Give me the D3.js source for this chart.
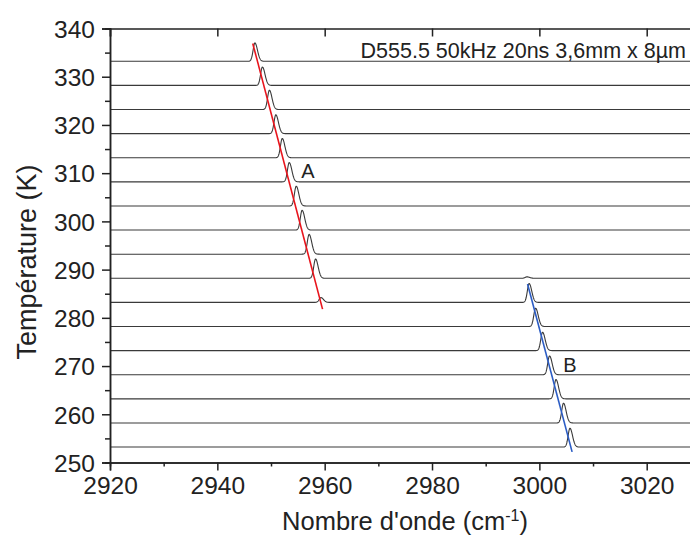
<!DOCTYPE html>
<html><head><meta charset="utf-8">
<script src="https://cdn.jsdelivr.net/npm/d3@7"></script>
<style>
html,body{margin:0;padding:0;background:#fff;}
svg{display:block;font-family:"Liberation Sans",Arial,sans-serif;}
</style></head>
<body>
<svg id="chart" width="690" height="536"></svg>
<script>
// ---- data ----
const traceOffsets = [333.2, 328.2, 323.2, 318.2, 313.2, 308.2, 303.2, 298.2, 293.2, 288.2, 283.2, 278.2, 273.2, 268.2, 263.2, 258.2, 253.2];
const peakACenters = [2947.0, 2948.4, 2949.7, 2950.9, 2952.1, 2953.4, 2954.7, 2955.8, 2957.1, 2958.3, 2959.3, null, null, null, null, null, null];
const peakAHeights = [3.8, 3.8, 4.0, 3.9, 4.0, 4.0, 4.1, 4.1, 4.1, 4.0, 1.0, 0, 0, 0, 0, 0, 0];
const peakBCenters = [null, null, null, null, null, null, null, null, null, 2997.7, 2998.1, 2999.3, 3000.6, 3001.9, 3003.1, 3004.5, 3005.7];
const peakBHeights = [0, 0, 0, 0, 0, 0, 0, 0, 0, 0.3, 3.9, 3.8, 3.8, 3.9, 4.0, 4.1, 3.9];
const fitA = [[2946.6, 336.9], [2959.6, 281.8]];
const fitB = [[2997.8, 287.0], [3006.1, 252.2]];
const xTicks = [2920, 2940, 2960, 2980, 3000, 3020];
const yTicks = [250, 260, 270, 280, 290, 300, 310, 320, 330, 340];
const labels = [{t: "A", x: 2956.9, y: 309.0}, {t: "B", x: 3005.7, y: 268.8}];
const annotation = "D555.5 50kHz 20ns 3,6mm x 8µm";
const peakWidthLeft = 0.34, peakWidthRight = 0.48;

// ---- layout ----
const svg = d3.select("#chart");
const mLeft = 110, mTop = 28.5, mBottom = 462.5;
const x = d3.scaleLinear().domain([2920, 3030]).range([mLeft, mLeft + 110 * 5.367]);
const y = d3.scaleLinear().domain([250, 340]).range([mBottom, mTop]);

function peak(v, c, h) {
  if (c == null || !h) return 0;
  const s = v < c ? peakWidthLeft : peakWidthRight;
  return h * Math.exp(-0.5 * Math.pow((v - c) / s, 2));
}

// traces
const xs = d3.range(2920, 3030.001, 0.04);
const line = d3.line().x(d => x(d[0])).y(d => y(d[1]));
traceOffsets.forEach((off, i) => {
  const pts = xs.map(v => [v, off + peak(v, peakACenters[i], peakAHeights[i]) + peak(v, peakBCenters[i], peakBHeights[i])]);
  svg.append("path").attr("d", line(pts)).attr("fill", "none")
    .attr("stroke", "#3a3a3a").attr("stroke-width", 1.1);
});

// fit lines
svg.append("path").attr("d", line(fitA)).attr("stroke", "#e8141c").attr("stroke-width", 1.6).attr("fill", "none");
svg.append("path").attr("d", line(fitB)).attr("stroke", "#2b5cc4").attr("stroke-width", 1.6).attr("fill", "none");

// axes
const axisColor = "#222";
const gx = svg.append("g").attr("transform", `translate(0,${mBottom})`)
  .call(d3.axisBottom(x).tickValues(xTicks).tickSize(8).tickPadding(6).tickFormat(d3.format("d")));
const gxm = svg.append("g").attr("transform", `translate(0,${mBottom})`)
  .call(d3.axisBottom(x).tickValues(d3.range(2930, 3030, 20)).tickSize(4).tickFormat(""));
const gt = svg.append("g").attr("transform", `translate(0,${mTop})`)
  .call(d3.axisBottom(x).tickValues(xTicks).tickSize(8).tickFormat(""));
const gy = svg.append("g").attr("transform", `translate(${mLeft},0)`)
  .call(d3.axisLeft(y).tickValues(yTicks).tickSize(8).tickPadding(7).tickFormat(d3.format("d")));
const gym = svg.append("g").attr("transform", `translate(${mLeft},0)`)
  .call(d3.axisLeft(y).tickValues(d3.range(255, 340, 10)).tickSize(5).tickFormat(""));
[gx, gxm, gt, gy, gym].forEach(g => {
  g.attr("font-family", null).attr("font-size", null);
  g.selectAll("path.domain").attr("stroke", axisColor).attr("stroke-width", 1.5);
  g.selectAll(".tick line").attr("stroke", axisColor).attr("stroke-width", 1.5);
  g.selectAll("text").attr("fill", "#222").style("font-size", "24.5px");
});
gy.selectAll("text").attr("dy", "0.36em");
gx.selectAll("text").attr("dy", "0.71em");

// labels
labels.forEach(l => {
  svg.append("text").attr("x", x(l.x)).attr("y", y(l.y)).attr("text-anchor", "middle")
    .attr("fill", "#222").style("font-size", "20px").text(l.t);
});
svg.append("text").attr("x", 686).attr("y", 58).attr("text-anchor", "end")
  .attr("fill", "#222").style("font-size", "21.5px").text(annotation);

// axis titles
const xt = svg.append("text").attr("x", 405).attr("y", 530).attr("text-anchor", "middle")
  .attr("fill", "#222").style("font-size", "25.5px");
xt.append("tspan").text("Nombre d'onde (cm");
xt.append("tspan").attr("dy", "-0.55em").style("font-size", "16px").text("-1");
xt.append("tspan").attr("dy", "0.35em").text(")");
svg.append("text").attr("transform", "translate(36,262) rotate(-90)").attr("text-anchor", "middle")
  .attr("fill", "#222").style("font-size", "27px").text("Température (K)");
</script>
</body></html>
